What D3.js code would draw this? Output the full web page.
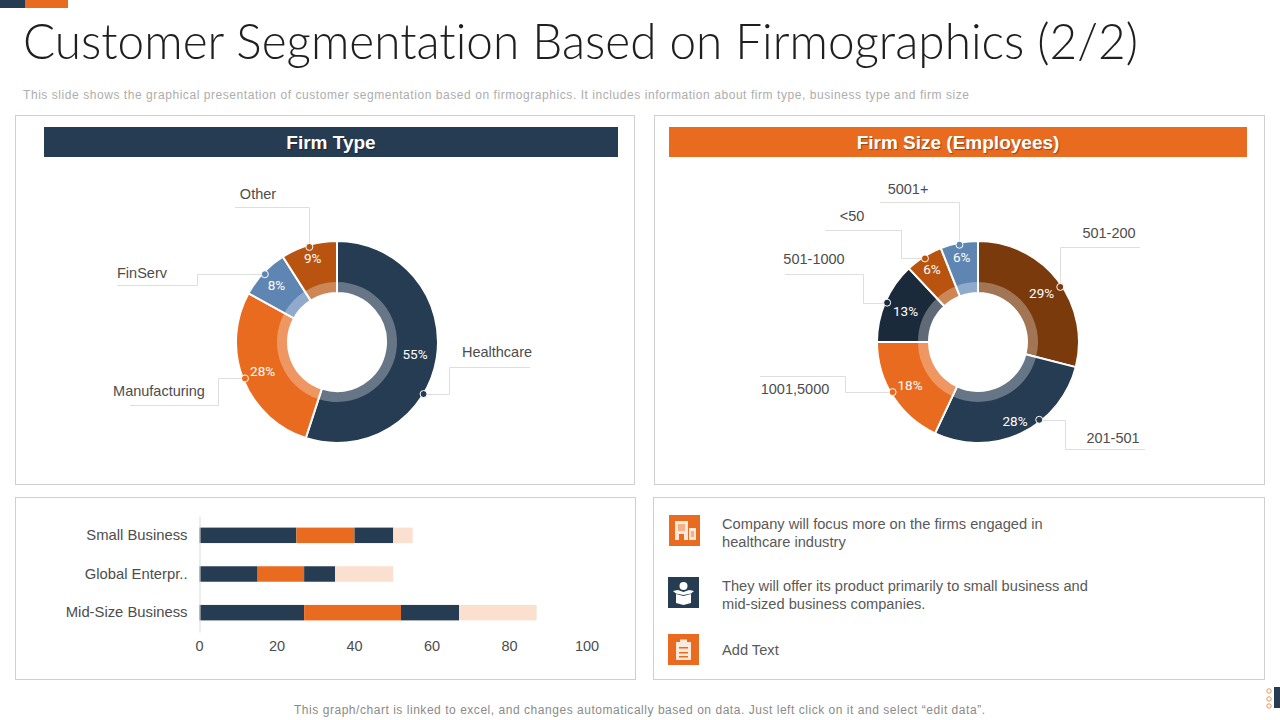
<!DOCTYPE html>
<html>
<head>
<meta charset="utf-8">
<script src="https://cdn.jsdelivr.net/npm/d3@7"></script>
<style>
  body { margin: 0; background: #fff; }
  svg { display: block; font-family: "Liberation Sans", Arial, sans-serif; }
</style>
</head>
<body>
<div id="chart"></div>
<script>
// firm type donut
const typeNames = ["Healthcare", "Manufacturing", "FinServ", "Other"]
const typeValues = [55, 28, 8, 9]
const typeColors = ["#263c53", "#e96b20", "#5f86b3", "#b8540f"]

// firm size donut
const sizeNames = ["501-200", "201-501", "1001,5000", "501-1000", "<50", "5001+"]
const sizeValues = [29, 28, 18, 13, 6, 6]
const sizeColors = ["#7a3a0c", "#263c53", "#e96b20", "#1b2a3b", "#b8540f", "#5f86b3"]

// stacked bars
const barCategories = ["Small Business", "Global Enterpr..", "Mid-Size Business"]
const barSeries1 = [25, 15, 27]
const barSeries2 = [15, 12, 25]
const barSeries3 = [10, 8, 15]
const barSeries4 = [5, 15, 20]
const barColors = ["#263c53", "#e96b20", "#263c53", "#fbdfcf"]
const barTicks = [0, 20, 40, 60, 80, 100]

const svg = d3.select("#chart").append("svg")
  .attr("width", 1280)
  .attr("height", 720)

// top strip
svg.append("rect").attr("x", 0).attr("y", 0).attr("width", 25).attr("height", 8).attr("fill", "#263c53")
svg.append("rect").attr("x", 25).attr("y", 0).attr("width", 43).attr("height", 8).attr("fill", "#e96b20")

svg.append("text")
  .attr("x", 23).attr("y", 59)
  .style("font-family", "Lato")
  .style("font-weight", 300)
  .style("font-size", "49px")
  .style("font-variant-ligatures", "none")
  .attr("fill", "#1f1f1f")
  .attr("textLength", 1115)
  .attr("lengthAdjust", "spacingAndGlyphs")
  .text("Customer Segmentation Based on Firmographics (2/2)")

svg.append("text")
  .attr("x", 23).attr("y", 99)
  .attr("fill", "#adadad")
  .style("font-size", "12px")
  .attr("textLength", 946)
  .text("This slide shows the graphical presentation of customer segmentation based on firmographics. It includes information about firm type, business type and firm size")

svg.append("text")
  .attr("x", 294).attr("y", 714)
  .attr("fill", "#8a8a8a")
  .style("font-size", "12px")
  .attr("textLength", 691)
  .text("This graph/chart is linked to excel, and changes automatically based on data. Just left click on it and select “edit data”.")

// panels
const panels = [[15, 115, 619, 369], [654, 115, 610, 369], [15, 497, 620, 182], [653, 497, 611, 182]]
svg.selectAll("rect.panel")
  .data(panels)
  .enter().append("rect")
    .attr("class", "panel")
    .attr("x", d => d[0] + 0.5).attr("y", d => d[1] + 0.5)
    .attr("width", d => d[2]).attr("height", d => d[3])
    .attr("fill", "#fff")
    .attr("stroke", "#cfcfcf")

function header(x, w, color, label) {
  svg.append("rect").attr("x", x).attr("y", 127).attr("width", w).attr("height", 30).attr("fill", color)
  svg.append("text")
    .attr("x", x + w / 2).attr("y", 149)
    .attr("text-anchor", "middle")
    .attr("fill", "#fff")
    .style("font-size", "19px")
    .style("font-weight", "bold")
    .style("text-shadow", "1px 1px 1px rgba(0,0,0,0.35)")
    .text(label)
}
header(44, 574, "#263c53", "Firm Type")
header(669, 578, "#e96b20", "Firm Size (Employees)")

// callouts: points after the dot, label position, dot and label tweaks per slice
// up = leader leaves the dot vertically, otherwise horizontally
const typeLayout = [
  { dotShift: 22, dotR: 101, labelR: 79, elbow: [[449.5, 0], [449.5, 367.5], [530, 367.5]], text: [497, 352] },
  { dotShift: 0, labelR: 80, elbow: [[218.5, 0], [218.5, 405.5], [130, 405.5]], text: [159, 391] },
  { dotShift: 0, labelR: 83, elbow: [[197.5, 0], [197.5, 285.5], [117, 285.5]], text: [142, 273] },
  { dotShift: 0, labelR: 87, up: true, elbow: [[0, 207.5], [235, 207.5]], text: [258, 194] }
]
const sizeLayout = [
  { dotShift: 4, labelR: 80.5, up: true, elbow: [[0, 247.5], [1140, 247.5]], text: [1109, 233] },
  { dotShift: -13, labelR: 87, elbow: [[1065.5, 0], [1065.5, 449.5], [1145, 449.5]], text: [1113, 438] },
  { dotShift: 2, labelR: 80.5, elbow: [[845.5, 0], [845.5, 376.5], [760, 376.5]], text: [795, 389] },
  { dotShift: 0, labelR: 79, elbow: [[863.5, 0], [863.5, 274.5], [785, 274.5]], text: [814, 259] },
  { dotShift: 0, labelR: 86, elbow: [[901.5, 0], [901.5, 230.5], [825, 230.5]], text: [852, 216] },
  { dotShift: 0, labelR: 87, up: true, elbow: [[0, 202.5], [880, 202.5]], text: [908, 189] }
]

function donut(cx, cy, names, values, colors, layout) {
  const outerR = 101, ringOuter = 60, innerR = 49
  const pie = d3.pie().sort(null)
  const arcs = pie(values)
  const g = svg.append("g").attr("transform", "translate(" + cx + "," + cy + ")")
  const sliceArc = d3.arc().innerRadius(innerR).outerRadius(outerR)
  const ringArc = d3.arc().innerRadius(innerR).outerRadius(ringOuter)

  g.selectAll("path.slice")
    .data(arcs)
    .enter().append("path")
      .attr("class", "slice")
      .attr("d", sliceArc)
      .attr("fill", (d, i) => colors[i])
      .attr("stroke", "#fff")
      .attr("stroke-width", 2)

  // paler inner band sits on top of the slice
  g.selectAll("path.ring")
    .data(arcs)
    .enter().append("path")
      .attr("class", "ring")
      .attr("d", ringArc)
      .attr("fill", "#fff")
      .attr("fill-opacity", 0.3)

  const polar = (angle, r) => [cx + r * Math.sin(angle), cy - r * Math.cos(angle)]
  const mid = d => (d.startAngle + d.endAngle) / 2
  const line = d3.line()

  arcs.forEach((d, i) => {
    const l = layout[i]
    const dot = polar(mid(d) + l.dotShift * Math.PI / 180, l.dotR || 99)
    const start = [Math.round(dot[0]) + 0.5, Math.round(dot[1]) + 0.5]
    const pts = l.elbow.map((p, j) => {
      if (j > 0) return p
      return l.up ? [start[0], p[1]] : [p[0], start[1]]
    })
    svg.append("path")
      .attr("d", line([start].concat(pts)))
      .attr("fill", "none")
      .attr("stroke", "#dedede")
    svg.append("circle")
      .attr("cx", dot[0]).attr("cy", dot[1]).attr("r", 3.5)
      .attr("fill", colors[i])
      .attr("stroke", "#fff")
    const p = polar(mid(d), l.labelR)
    svg.append("text")
      .attr("x", p[0]).attr("y", p[1] + 5)
      .attr("text-anchor", "middle")
      .attr("fill", "#fff")
      .style("font-family", "Roboto")
      .style("font-size", "13.5px")
      .text(values[i] + "%")
    svg.append("text")
      .attr("x", l.text[0]).attr("y", l.text[1] + 5)
      .attr("text-anchor", "middle")
      .attr("fill", "#4d4d4d")
      .style("font-size", "14.5px")
      .text(names[i])
  })
}
donut(337, 342, typeNames, typeValues, typeColors, typeLayout)
donut(978, 342, sizeNames, sizeValues, sizeColors, sizeLayout)

// stacked bar
const x = d3.scaleLinear().domain([0, 100]).range([199.5, 587])
const y = d3.scaleBand().domain(barCategories).range([516, 632]).paddingInner(0.6).paddingOuter(0.3)
const rows = barCategories.map((c, i) => ({
  category: c, s1: barSeries1[i], s2: barSeries2[i], s3: barSeries3[i], s4: barSeries4[i]
}))
const stacked = d3.stack().keys(["s1", "s2", "s3", "s4"])(rows)

svg.selectAll("g.layer")
  .data(stacked)
  .enter().append("g")
    .attr("class", "layer")
    .attr("fill", (d, i) => barColors[i])
  .selectAll("rect")
  .data(d => d)
  .enter().append("rect")
    .attr("x", d => x(d[0]))
    .attr("y", d => y(d.data.category))
    .attr("width", d => x(d[1]) - x(d[0]))
    .attr("height", y.bandwidth())

const xAxis = svg.append("g")
  .attr("transform", "translate(-0.5,632)")
  .call(d3.axisBottom(x).tickValues(barTicks).tickSize(0).tickPadding(9))
xAxis.select(".domain").remove()
xAxis.selectAll("text")
  .style("font-family", "'Liberation Sans'")
  .style("font-size", "14.5px")
  .attr("fill", "#4d4d4d")

const yAxis = svg.append("g")
  .attr("transform", "translate(199.5,0)")
  .call(d3.axisLeft(y).tickSize(0).tickPadding(12))
yAxis.select(".domain").attr("stroke", "#d9d9d9")
yAxis.selectAll("text")
  .style("font-family", "'Liberation Sans'")
  .style("font-size", "14.8px")
  .attr("fill", "#4d4d4d")

// takeaways
function textRow(lines, ty) {
  const t = svg.append("text").attr("fill", "#595959").style("font-size", "14.65px")
  lines.forEach((s, i) => {
    t.append("tspan").attr("x", 722).attr("y", ty + i * 18).text(s)
  })
}
textRow(["Company will focus more on the firms engaged in", "healthcare industry"], 529)
textRow(["They will offer its product primarily to small business and", "mid-sized business companies."], 591)
textRow(["Add Text"], 655)

function iconBox(bx, by, color) {
  const g = svg.append("g").attr("transform", "translate(" + bx + "," + by + ")")
  g.append("rect").attr("width", 31).attr("height", 31).attr("fill", color)
  return g
}

// buildings
const ic1 = iconBox(669, 515, "#e96b20")
ic1.append("rect").attr("x", 6).attr("y", 6).attr("width", 13).attr("height", 19).attr("fill", "#fde9dc")
ic1.append("rect").attr("x", 20).attr("y", 13).attr("width", 7).attr("height", 12).attr("fill", "#fde9dc")
ic1.append("rect").attr("x", 10).attr("y", 19).attr("width", 5).attr("height", 6).attr("fill", "#e96b20")
ic1.append("rect").attr("x", 9).attr("y", 9).attr("width", 7).attr("height", 7).attr("fill", "#e96b20").attr("opacity", 0.45)
ic1.append("rect").attr("x", 22).attr("y", 16).attr("width", 3).attr("height", 6).attr("fill", "#e96b20").attr("opacity", 0.45)

// open box with coin
const ic2 = iconBox(668, 577, "#263c53")
ic2.append("circle").attr("cx", 15.5).attr("cy", 9).attr("r", 4).attr("fill", "#fff")
ic2.append("path").attr("d", "M8 17L15.5 19L23 17V26L15.5 28L8 26Z").attr("fill", "#fff")
ic2.append("path").attr("d", "M5 14L10 13L15.5 15L21 13L26 14L23 16.5L15.5 18L8 16.5Z").attr("fill", "#fff")

// clipboard
const ic3 = iconBox(668, 634, "#e96b20")
ic3.append("rect").attr("x", 8).attr("y", 8).attr("width", 15).attr("height", 18).attr("fill", "#fde9dc")
ic3.append("rect").attr("x", 12).attr("y", 5.5).attr("width", 7).attr("height", 4).attr("fill", "#fde9dc")
ic3.selectAll("rect.tick")
  .data([13, 18, 22])
  .enter().append("rect")
    .attr("class", "tick")
    .attr("x", 11).attr("y", d => d).attr("width", 9).attr("height", 1.5)
    .attr("fill", "#e96b20")

// page marker
svg.append("rect").attr("x", 1274).attr("y", 687).attr("width", 6).attr("height", 21).attr("fill", "#263c53")
svg.selectAll("circle.mark")
  .data([691, 699, 706])
  .enter().append("circle")
    .attr("class", "mark")
    .attr("cx", 1269).attr("cy", d => d).attr("r", 2.2)
    .attr("fill", "none")
    .attr("stroke", "#e8935a")
</script>
</body>
</html>
